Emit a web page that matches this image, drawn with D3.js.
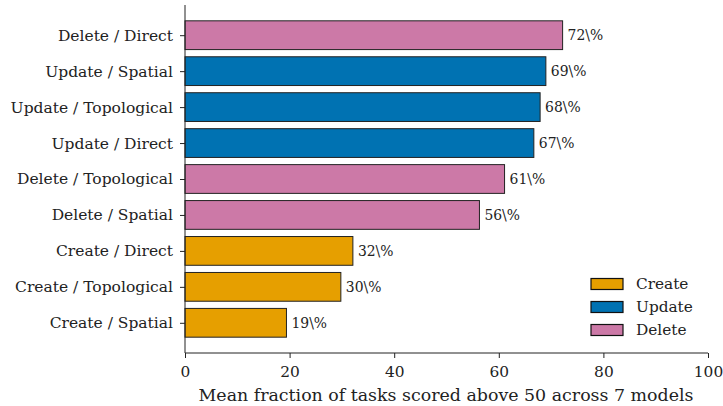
<!DOCTYPE html>
<html><head><meta charset="utf-8">
<script src="https://cdn.jsdelivr.net/npm/d3@7"></script>
<style>body{margin:0;background:#fff}svg{display:block}text{font-family:"DejaVu Serif",serif;fill:#222}</style>
</head><body><svg id="c" width="723" height="406"></svg>
<script>
const categories = ["Delete / Direct","Update / Spatial","Update / Topological","Update / Direct","Delete / Topological","Delete / Spatial","Create / Direct","Create / Topological","Create / Spatial"];
const groups = ["Delete","Update","Update","Update","Delete","Delete","Create","Create","Create"];
const values = [72.2,69.0,67.9,66.7,61.1,56.3,32.1,29.8,19.4];
const valueLabels = ["72\\%","69\\%","68\\%","67\\%","61\\%","56\\%","32\\%","30\\%","19\\%"];
const xTicks = [0,20,40,60,80,100];
const legendNames = ["Create","Update","Delete"];
const legendColors = ["#E69F00","#0072B2","#CC79A7"];

const svg = d3.select("#c");
const L = 185, R = 708, T = 5, B = 353;
const x = d3.scaleLinear().domain([0,100]).range([L,R]);
const y = d3.scaleLinear().domain([-0.84, 8.84]).range([T,B]);
const color = d3.scaleOrdinal().domain(legendNames).range(legendColors);
const bh = y(0.4) - y(-0.4);

svg.selectAll("rect.bar").data(values).join("rect").attr("class","bar")
  .attr("x", x(0)).attr("y",(d,i)=>y(i)-bh/2).attr("width",d=>x(d)-x(0)).attr("height",bh)
  .attr("fill",(d,i)=>color(groups[i])).attr("stroke","#222").attr("stroke-width",1);

svg.selectAll("text.val").data(values).join("text").attr("class","val")
  .attr("x",d=>x(d)+5).attr("y",(d,i)=>y(i)).attr("dy","0.35em")
  .attr("font-size",13.9).text((d,i)=>valueLabels[i]);

const xa = svg.append("g").attr("transform",`translate(0,${B})`)
  .call(d3.axisBottom(x).tickValues(xTicks).tickSize(5).tickPadding(8.5).tickFormat(d3.format("d")));
xa.select(".domain").attr("stroke","#222").attr("d",`M${L},0H${R}`);
xa.selectAll(".tick line").attr("stroke","#222");
xa.selectAll("text").attr("font-size",15.4).attr("fill","#222").attr("font-family","DejaVu Serif");

const yPos = d3.scalePoint().domain(categories).range([y(0),y(8)]);
const ya = svg.append("g").attr("transform",`translate(${L},0)`)
  .call(d3.axisLeft(yPos).tickSize(5).tickPadding(7));
ya.select(".domain").attr("stroke","#222").attr("d",`M0,${T}V${B}`);
ya.selectAll(".tick line").attr("stroke","#222");
ya.selectAll("text").attr("font-size",15.5).attr("fill","#222").attr("font-family","DejaVu Serif");

svg.append("text").attr("x",(L+R)/2 - 0.5).attr("y",401).attr("text-anchor","middle")
  .attr("font-size",17.4).text("Mean fraction of tasks scored above 50 across 7 models");

const lg = svg.append("g");
legendNames.forEach((n,i)=>{
  const cy = 284 + i*23;
  lg.append("rect").attr("x",591).attr("y",cy-5.5).attr("width",32).attr("height",11)
    .attr("fill",legendColors[i]).attr("stroke","#111").attr("stroke-width",1.2);
  lg.append("text").attr("x",636).attr("y",cy).attr("dy","0.35em").attr("font-size",15.3).text(n);
});
</script></body></html>
